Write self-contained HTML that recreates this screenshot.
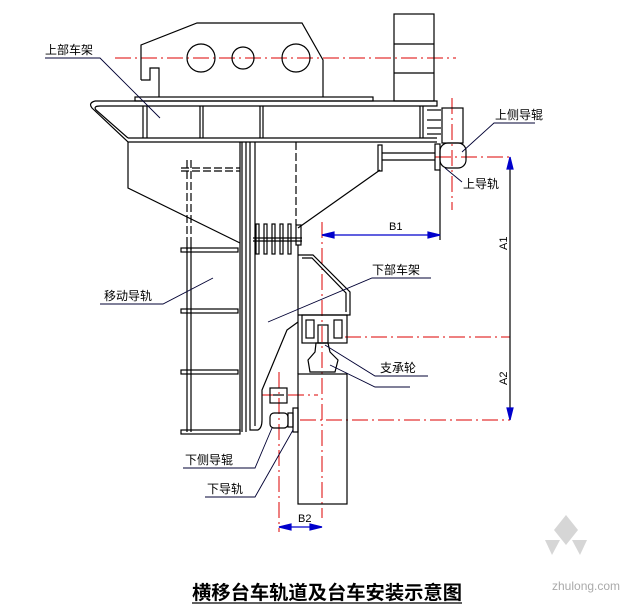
<!DOCTYPE html>
<html><head><meta charset="utf-8"><style>
html,body{margin:0;padding:0;background:#fff}
svg{display:block}
text{font-family:"Liberation Sans","Noto Sans CJK SC",sans-serif}
</style></head><body>
<svg width="626" height="613" viewBox="0 0 626 613" xmlns="http://www.w3.org/2000/svg">
<rect width="626" height="613" fill="#fff"/>
<g stroke="#d00" stroke-width="1" fill="none" stroke-dasharray="16,4,2,4">
<line x1="115" y1="58" x2="456" y2="58"/>
<line x1="452" y1="98" x2="452" y2="210"/>
<line x1="435" y1="157" x2="510" y2="157"/>
<line x1="322" y1="222" x2="322" y2="518"/>
<line x1="345" y1="337" x2="510" y2="337"/>
<line x1="300" y1="420" x2="510" y2="420"/>
<line x1="279" y1="372" x2="279" y2="532"/>
<line x1="262" y1="395" x2="318" y2="395"/>
</g>
<g stroke="#000" stroke-width="1.2" fill="none">
<polyline points="141,80 141,45 197,23 302,23 323,60 323,97"/>
<polyline points="141,80 150,80 150,68 159,68 159,97"/>
<circle cx="201" cy="58" r="14"/>
<circle cx="243" cy="58" r="11"/>
<circle cx="296" cy="58" r="14"/>
<rect x="394" y="14" width="40" height="87"/>
<line x1="394" y1="44" x2="434" y2="44"/>
<line x1="394" y1="73" x2="434" y2="73"/>
<rect x="135" y="97" width="238" height="4"/>
<path d="M95,101 L437,101 L437,106 L100,106 Q93,106 96,110 L128,138"/>
<path d="M95,101 Q88,103 92,108 L128,142"/>
<line x1="128" y1="138" x2="437" y2="138"/>
<line x1="128" y1="142" x2="437" y2="142"/>
<line x1="143" y1="106" x2="143" y2="138"/><line x1="147" y1="106" x2="147" y2="138"/>
<line x1="200" y1="106" x2="200" y2="138"/><line x1="203" y1="106" x2="203" y2="138"/>
<line x1="260" y1="106" x2="260" y2="138"/><line x1="263" y1="106" x2="263" y2="138"/>
<line x1="420" y1="106" x2="420" y2="138"/><line x1="423" y1="106" x2="423" y2="138"/>
<line x1="427" y1="110" x2="441" y2="110"/><line x1="427" y1="120" x2="441" y2="120"/><line x1="427" y1="128" x2="441" y2="128"/><line x1="427" y1="134" x2="441" y2="134"/>
<rect x="442" y="108" width="21" height="35"/>
<rect x="440" y="143" width="26" height="25" rx="8"/>
<rect x="435" y="144" width="5" height="26"/>
<line x1="440" y1="170" x2="440" y2="240"/>
<rect x="378" y="145" width="4" height="26"/>
<line x1="382" y1="153" x2="435" y2="153"/>
<line x1="382" y1="160" x2="435" y2="160"/>
<polyline points="128,142 128,188 240,243"/>
<line x1="240" y1="142" x2="240" y2="432"/>
<line x1="242" y1="142" x2="242" y2="432"/>
<line x1="246" y1="142" x2="246" y2="432"/>
<path d="M250,142 L250,430 L258,430 Q262,428 262,420 L262,390 L287,330 L298,322"/>
<path d="M255,142 L255,426"/>
<line x1="380" y1="170" x2="298" y2="228"/>
<line x1="296" y1="142" x2="296" y2="225" stroke-dasharray="8,3"/>
<line x1="187" y1="160" x2="187" y2="250" stroke-dasharray="8,3"/>
<line x1="191" y1="160" x2="191" y2="250" stroke-dasharray="8,3"/>
<line x1="181" y1="168" x2="240" y2="168" stroke-dasharray="8,3"/>
<line x1="181" y1="171" x2="240" y2="171" stroke-dasharray="8,3"/>
<line x1="187" y1="245" x2="187" y2="432"/><line x1="191" y1="245" x2="191" y2="432"/>
<rect x="181" y="248" width="57" height="4"/>
<rect x="181" y="309" width="57" height="4"/>
<rect x="181" y="370" width="57" height="4"/>
<rect x="181" y="430" width="59" height="4"/>
<line x1="253" y1="238" x2="302" y2="238"/><line x1="253" y1="241" x2="302" y2="241"/>
<rect x="256" y="224" width="3" height="30"/><rect x="264" y="224" width="3" height="30"/><rect x="272" y="224" width="3" height="30"/><rect x="280" y="224" width="3" height="30"/><rect x="288" y="224" width="3" height="30"/>
<rect x="296" y="225" width="5" height="20"/>
<polyline points="298,255 313,255 350,292 350,315 298,315"/>
<polyline points="302,258 312,258 346,293 346,312"/>
<line x1="298" y1="245" x2="298" y2="374"/>
<rect x="302" y="315" width="45" height="28"/>
<rect x="306" y="320" width="8" height="18"/><rect x="334" y="320" width="8" height="18"/>
<rect x="318" y="325" width="10" height="18"/>
<path d="M316,343 L328,343 L330,352 L338,360 L335,372 L310,372 L308,360 L315,352 Z"/>
<rect x="298" y="374" width="49" height="130"/>
<rect x="270" y="388" width="17" height="15"/>
<line x1="273" y1="395" x2="284" y2="395"/>
<rect x="270" y="413" width="18" height="15" rx="4"/>
<rect x="288" y="413" width="5" height="14"/>
<rect x="293" y="408" width="5" height="24"/>
<line x1="510" y1="157" x2="510" y2="420"/>
</g>
<g stroke="#003" stroke-width="0.9" fill="none">
<polyline points="45,58 100,58 160,118"/>
<polyline points="535,123 494,123 462,152"/>
<line x1="445" y1="168" x2="462" y2="182"/>
<polyline points="431,278 372,278 268,322"/>
<polyline points="100,304 163,304 213,278"/>
<polyline points="428,376 375,376 325,345"/>
<polyline points="410,387 375,387 330,365"/>
<polyline points="183,468 255,468 272,428"/>
<polyline points="205,497 255,497 293,430"/>
</g>
<g stroke="#00c" stroke-width="1.2" fill="#00c">
<line x1="322" y1="235" x2="440" y2="235"/>
<polygon points="322,235 334,232 334,238"/><polygon points="440,235 428,232 428,238"/>
<line x1="279" y1="527" x2="322" y2="527"/>
<polygon points="279,527 291,524 291,530"/><polygon points="322,527 310,524 310,530"/>
<polygon points="510,157 507,169 513,169"/><polygon points="510,420 507,408 513,408"/>
</g>
<g font-size="11" fill="#000">
<text x="389" y="230">B1</text>
<text x="298" y="522">B2</text>
<text transform="translate(507,250) rotate(-90)">A1</text>
<text transform="translate(507,385) rotate(-90)">A2</text>
</g>
<g font-size="12" fill="#000">
<text x="45" y="54">上部车架</text>
<text x="495" y="119">上侧导辊</text>
<text x="463" y="188">上导轨</text>
<text x="372" y="274">下部车架</text>
<text x="104" y="300">移动导轨</text>
<text x="380" y="372">支承轮</text>
<text x="185" y="464">下侧导辊</text>
<text x="207" y="493">下导轨</text>
</g>
<text x="192" y="599" font-size="19" font-weight="bold" fill="#000" textLength="270" lengthAdjust="spacingAndGlyphs">横移台车轨道及台车安装示意图</text>
<line x1="192" y1="603" x2="462" y2="603" stroke="#000" stroke-width="1.2"/>
<g fill="#ccc" opacity="0.8">
<polygon points="566,515 578,530 566,545 554,530"/>
<polygon points="545,540 560,540 552,555"/>
<polygon points="572,540 587,540 580,555"/>
</g>
<text x="552" y="590" font-size="12" fill="#aaa">zhulong.com</text>
</svg>
</body></html>
